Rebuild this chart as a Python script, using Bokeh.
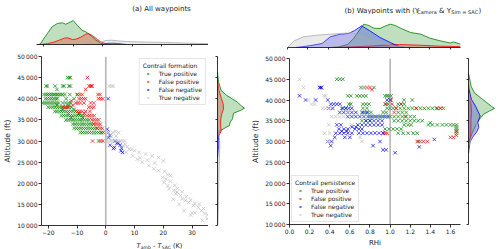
from bokeh.plotting import figure
from bokeh.models import Range1d, Label, Span, FixedTicker, Legend, LegendItem, NumeralTickFormatter
from bokeh.layouts import row, column
from bokeh.embed import file_html
from bokeh.resources import INLINE

FONT = "DejaVu Sans"
GREEN, RED, BLUE, GREY = "#008000", "#ff0000", "#0000ff", "#bdbdbd"
NAMES = ["True positive", "False positive", "False negative", "True negative"]

# ---------------- Panel (a): T_amb - T_SAC vs altitude ----------------
A_TP_LEVELS = [45000, 43000, 42200, 41000, 40000, 39000, 38500, 38000, 37500, 37000,
               36500, 36000, 35500, 35000, 34000, 33000, 32000, 30000]
A_TP_X = [
    [-13.3, -12.7, -12.3],
    [-20.8, -20.3, -17.6, -15.0, -14.5, -12.8, -12.3],
    [-17.0],
    [-21.5, -20.8, -20.2, -19.6, -19.0, -18.4, -17.9, -17.3, -16.8, -16.2, -15.6, -15.0, -14.2, -12.5, -10.0],
    [-21.0, -20.3, -19.5, -18.8, -18.0, -17.3, -16.8, -13.8, -11.0],
    [-22.0, -21.3, -20.6, -19.9, -19.2, -18.5, -17.8, -17.1, -16.4, -15.0, -14.0, -13.0, -12.2],
    [-17.0, -13.0],
    [-20.0, -19.2, -18.4, -17.6, -16.8, -16.0, -15.2, -14.4, -13.6, -12.8, -12.0],
    [-15.0, -11.0],
    [-17.7, -17.0, -16.2, -15.4, -14.6, -13.8, -13.0, -12.2, -11.4, -10.5],
    [-13.0, -9.0],
    [-15.5, -14.7, -13.9, -13.1, -12.3, -11.5, -10.7, -9.9, -9.1, -8.3, -7.5],
    [-12.0, -8.0],
    [-13.8, -13.0, -12.2, -11.4, -10.6, -9.8, -9.0, -8.2, -7.4, -6.6, -5.8],
    [-11.5, -10.7, -9.9, -9.1, -8.3, -7.5, -6.7, -5.9, -5.1, -4.3],
    [-11.0, -10.2, -9.4, -8.6, -7.8, -7.0, -6.2, -5.4, -4.6, -3.8, -3.0],
    [-8.9, -8.1, -7.3, -6.5, -5.7, -4.9, -4.1, -3.3, -2.5, -1.7],
    [-2.5],
]
A_FP_LEVELS = [45000, 43000, 42200, 41000, 40000, 39500, 39000, 38500, 38000, 37000,
               36500, 36000, 35000, 34000, 33000, 32000, 30000]
A_FP_X = [
    [-6.4],
    [-5.8, -5.3, -5.0, -4.8],
    [-7.0],
    [-9.8, -9.0, -8.2, -2.7, -2.0],
    [-9.3, -8.5, -7.7, -7.0, -2.5, -1.8, -1.0],
    [-12.0],
    [-10.4, -9.6, -8.8, -7.6, -5.3, -4.2],
    [-11.5],
    [-14.9, -14.0, -13.2, -5.9, -5.0, -4.2],
    [-9.8, -9.0, -8.2, -7.0, -5.5],
    [-9.5, -7.5],
    [-6.5, -5.7, -4.8, -4.0],
    [-4.8, -4.0, -3.2, -2.5],
    [-4.2, -3.4, -2.6, -1.9],
    [-3.0, -2.0, -1.2],
    [-1.4, -0.8],
    [-4.6, -1.8, -1.0],
]
A_FN_X = [0.8, 0.5, 0.9, 1.5, 1.0, 3.3, 3.8, 4.4, 1.5, 2.7, 5.0, 5.5, 5.3, 5.8, 3.0]
A_FN_ALT = [40000, 32800, 32000, 31300, 30800, 30000, 29500, 29500, 29000, 28200,
            29000, 28300, 27700, 27300, 28500]
A_TN_X = [1.2, 2.0, 2.6, -0.5, 1.0, 2.5, 3.3, 4.5, 0.5, 2.0, 3.5,
          0.2, 1.0, 1.8, 2.6, 3.4, 4.2, 5.0, 5.8, 6.6,
          6.0, 6.8, 7.5, 8.2, 10.0, 11.6, 13.9, 16.1, 18.4, 20.0,
          7.1, 9.4, 11.0, 12.7, 15.0, 16.7, 18.4, 9.0, 12.0, 14.5, 17.0,
          19.8, 21.0, 20.3, 21.5, 22.0, 23.7, 24.3, 26.0, 26.6, 27.7, 28.8, 30.5,
          32.2, 33.3, 34.5, 35.3, 33.6, 27.2, 25.5, 23.5, 29.5, 31.0, 24.8, 22.5,
          20.5, 21.5, 22.5, 24.0, 25.0, 26.5, 28.0, 29.5, 31.0, 32.5, 34.0, 30.0, 35.5]
A_TN_ALT = [43000, 43000, 43000, 32400, 32000, 32000, 32300, 32000, 31000, 31000, 31200,
            30000, 30000, 30000, 30000, 30000, 30000, 30000, 30000, 30000,
            28900, 29200, 28600, 28100, 27700, 27300, 26900, 26500, 26100, 25300,
            27300, 26500, 25700, 25000, 24200, 23400, 23000, 28000, 26000, 25500, 24800,
            21400, 21000, 20200, 19400, 18700, 18300, 17500, 17100, 16300, 15900, 15500, 14700,
            14300, 13500, 12800, 11600, 11200, 13500, 15000, 16200, 12500, 13000, 17900, 21800,
            22800, 22000, 20500, 19500, 18800, 18000, 16800, 16000, 15200, 15000, 14000, 13000, 12500]

# marginal densities, panel (a) (heights)
A_TOP_TP_X = [-21.5, -21.1, -18.7, -17.0, -15.3, -13.6, -12.5, -10.8, -10.0, -8.5, -6.9, -5.7, -4.0, -2.4, -0.7, 0.4]
A_TOP_TP_D = [0, 0.5, 11, 18, 21, 21.7, 20.3, 22.7, 24, 19, 14, 12.7, 9, 4.7, 1.3, 0]
A_TOP_FP_X = [-21.1, -18.7, -16.4, -14.7, -13.0, -11.9, -10.2, -9.1, -7.4, -5.7, -4.9, -3.5, -1.8, -0.7, 1.0, 2.7]
A_TOP_FP_D = [0, 0.8, 2.5, 4.3, 6.3, 6.7, 5.0, 5.3, 7.3, 10.3, 11, 9, 5, 2.7, 0.8, 0]
A_TOP_FN_X = [-1.0, 0.5, 2.0, 3.5, 5.0, 6.5, 8.0]
A_TOP_FN_D = [0, 0.6, 1.2, 1.3, 1.0, 0.5, 0]
A_TOP_TN_X = [-6, -3, -1, 0, 1, 3, 5, 8, 12, 16, 20, 24, 28, 32, 35.7]
A_TOP_TN_D = [0, 0.5, 1.5, 3.0, 4.0, 4.3, 3.7, 3.0, 2.6, 2.3, 2.1, 1.8, 1.4, 1.1, 0.8]

A_RIGHT_TP_ALT = [30300, 31700, 32500, 33120, 33670, 34450, 35250, 36580, 37200, 37770, 38240, 39200, 40770, 41950, 44000, 46300]
A_RIGHT_TP_D = [0, 0.7, 3.3, 7.7, 12, 12.7, 15, 16, 22.7, 27, 24, 20, 9.3, 3.7, 1.0, 0]
A_RIGHT_FP_ALT = [30300, 30900, 31700, 32320, 33120, 34070, 35250, 36440, 37600, 38800, 40000, 41950, 44300]
A_RIGHT_FP_D = [0, 0.7, 2.3, 3.7, 3.3, 3.0, 3.3, 4.3, 6.0, 5.7, 4.0, 1.5, 0]
A_RIGHT_FN_ALT = [26000, 27000, 28000, 29000, 30000, 31000, 33000]
A_RIGHT_FN_D = [0, 0.4, 0.8, 1.2, 1.3, 0.7, 0]
A_RIGHT_TN_ALT = [10000, 13000, 16000, 20000, 24000, 27000, 29000, 30500, 32000, 34000, 38000, 43000, 45000]
A_RIGHT_TN_D = [0.3, 0.7, 1.0, 1.3, 1.6, 2.0, 2.3, 2.0, 1.2, 0.6, 0.3, 0.3, 0]

# ---------------- Panel (b): RHi vs altitude ----------------
B_TP_LEVELS = [45000, 43000, 41000, 40000, 39000, 38000, 37000, 36000, 35000, 34500, 34000,
               33500, 33000, 32500, 32000, 30000]
B_TP_X = [
    [0.47, 0.50, 0.53],
    [0.71, 0.74, 0.84],
    [0.58, 0.61, 0.67, 0.70, 0.73, 0.76, 0.95, 0.97, 0.99, 1.01],
    [1.14, 1.22],
    [0.59, 0.61, 0.73, 0.76, 0.79, 0.95, 0.98, 1.08, 1.11, 1.14],
    [0.52, 0.56, 0.73, 0.77, 0.97, 1.00, 1.03, 1.06, 1.10, 1.14, 1.18, 1.22, 1.26, 1.30, 1.34, 1.38, 1.42, 1.46, 1.50],
    [0.72, 0.75, 0.78, 0.81, 0.93, 0.96, 1.08, 1.12, 1.16],
    [0.80, 0.84, 0.88, 0.92, 0.96, 1.00, 1.04, 1.08, 1.12, 1.16, 1.20, 1.24],
    [0.72, 0.76, 0.80, 1.04, 1.08, 1.12, 1.16, 1.20, 1.24, 1.28, 1.32],
    [1.40],
    [1.14, 1.18, 1.21, 1.38, 1.42, 1.47, 1.52, 1.56, 1.60, 1.63, 1.66],
    [1.66],
    [0.95, 0.99, 1.03, 1.07, 1.11, 1.66],
    [1.66],
    [1.08, 1.13, 1.18, 1.23, 1.27, 1.66],
    [1.28, 1.30],
]
B_FP_LEVELS = [43000, 42500, 40000, 39000, 38000, 37000, 36000, 32500, 32000, 31500, 31000, 30000]
B_FP_X = [
    [0.77, 0.80], [0.82], [1.00, 1.01], [0.96, 1.02, 1.11], [1.06, 1.26, 1.47, 1.50, 1.53],
    [1.04], [1.15], [1.66], [0.93, 0.95, 0.97], [1.66], [1.60, 1.63], [1.27, 1.33, 1.37],
]
B_FN_LEVELS = [43000, 41000, 40000, 39000, 38000, 37000, 36000, 35000, 34000, 33500, 33000,
               32500, 32000, 31000, 30500, 30000, 29000, 28700, 28000, 27300]
B_FN_X = [
    [0.30, 0.31, 0.32], [0.10], [0.16, 0.26, 0.38, 0.97, 1.00], [0.41, 0.44, 0.47, 0.50],
    [0.39, 0.43, 0.53, 0.56, 0.59, 0.62], [0.50, 0.54, 0.58, 0.62, 0.66, 0.73, 0.77],
    [0.58, 0.62, 0.66, 0.70, 0.74, 0.78, 0.82, 0.86, 0.90, 0.94, 0.98],
    [0.76, 0.80, 0.84, 0.88, 0.92], [0.47, 0.51, 0.68, 0.72, 0.76, 0.80, 0.84, 0.88, 0.92],
    [0.62, 0.66], [0.49, 0.54, 0.58, 0.65, 0.69, 0.72], [0.52, 0.57],
    [0.46, 0.50, 0.54, 0.58, 0.62, 0.69, 0.73, 0.77, 0.81, 0.85, 0.89, 0.93],
    [0.45, 0.55, 0.60], [1.44], [0.38, 0.42, 0.90], [0.41, 0.83], [1.29], [0.93, 0.96], [1.05],
]
B_TN_LEVELS = [45000, 43000, 41000, 40000, 39000, 38000, 37000, 36000, 34000, 32000, 31000, 30000]
B_TN_X = [
    [0.10], [0.14, 0.72, 0.74, 0.76], [0.34, 0.36], [0.19], [0.22, 0.25], [0.33, 0.36, 0.39, 0.42],
    [0.58], [0.42, 0.46, 0.50, 0.54], [0.39, 0.62], [0.35, 0.40], [0.70], [0.38, 0.41, 0.72],
]

B_TOP_TP_X = [0.42, 0.50, 0.59, 0.65, 0.69, 0.75, 0.80, 0.85, 0.91, 0.96, 1.01, 1.06, 1.11, 1.21, 1.31, 1.40, 1.50, 1.60, 1.63, 1.70]
B_TOP_TP_D = [0, 0.5, 3, 9, 15, 23.3, 22, 19.3, 19, 21.5, 23.3, 22, 19.3, 15, 13.3, 9.3, 6.7, 4.5, 5.5, 3.5]
B_TOP_FP_X = [0.45, 0.60, 0.80, 0.95, 1.10, 1.30, 1.50, 1.65, 1.70]
B_TOP_FP_D = [0, 0.5, 1.3, 2.3, 3.0, 2.3, 1.3, 1.0, 0.8]
B_TOP_FN_X = [0.08, 0.15, 0.23, 0.34, 0.42, 0.52, 0.60, 0.66, 0.73, 0.82, 0.91, 1.01, 1.09, 1.15]
B_TOP_FN_D = [0, 0.8, 2, 4, 10.7, 13.3, 14, 17, 21.7, 16, 10, 5, 1.3, 0]
B_TOP_TN_X = [0.0, 0.02, 0.065, 0.16, 0.29, 0.42, 0.52, 0.62, 0.70, 0.82, 0.95, 1.05, 1.20, 1.30]
B_TOP_TN_D = [0, 2, 6.7, 10.7, 12.3, 13.3, 14, 14.7, 13, 8, 4, 1.5, 0.3, 0]

B_RIGHT_TP_ALT = [29680, 30630, 32220, 33780, 35370, 36560, 37340, 37980, 38530, 40110, 41700, 43270, 46440]
B_RIGHT_TP_D = [0, 1.5, 4, 7, 11, 15, 21, 26, 22.7, 14.3, 6, 2.7, 0]
B_RIGHT_FP_ALT = [28500, 29500, 31000, 33000, 35000, 37000, 39000, 42000, 44000]
B_RIGHT_FP_D = [0, 0.5, 2, 2.5, 2.5, 3, 2.5, 1, 0]
B_RIGHT_FN_ALT = [27080, 28260, 29850, 31030, 32220, 33400, 34590, 36160, 38530, 40110, 42480]
B_RIGHT_FN_D = [0, 0.5, 1.5, 4, 8, 10.3, 9.3, 11.7, 7, 3, 0.3]
B_RIGHT_TN_ALT = [28500, 29500, 31000, 32000, 33500, 35000, 36500, 38500, 40000, 42000]
B_RIGHT_TN_D = [0, 1, 3, 6, 8, 8.5, 8, 5, 2, 0]

ALT_TICKS = [10000, 15000, 20000, 25000, 30000, 35000, 40000, 45000, 50000]
TAMB_TICKS = [-20, -10, 0, 10, 20, 30]
RHI_TICKS = [0.0, 0.2, 0.4, 0.6, 0.8, 1.0, 1.2, 1.4, 1.6]


def flat(levels, rows):
    xs, ys = [], []
    for lv, r in zip(levels, rows):
        for v in r:
            xs.append(v)
            ys.append(lv)
    return xs, ys


def style_axis(ax, tick_out=3):
    ax.axis_line_color = "#000000"
    ax.axis_line_width = 0.8
    ax.major_tick_line_color = "#000000"
    ax.major_tick_line_width = 0.8
    ax.major_tick_out = tick_out
    ax.major_tick_in = 0
    ax.minor_tick_line_color = None
    ax.major_label_text_font = FONT
    ax.major_label_text_font_size = "6px"
    ax.major_label_text_color = "#222222"
    ax.major_label_standoff = 1
    ax.axis_label_text_font = FONT
    ax.axis_label_text_font_style = "normal"
    ax.axis_label_text_color = "#222222"
    ax.axis_label_standoff = 2


def base_fig(w, h, xr, yr, ml, mr, mt, mb, xloc="below", yloc="left"):
    p = figure(width=w, height=h, x_range=xr, y_range=yr, output_backend="svg",
               toolbar_location=None, min_border_left=ml, min_border_right=mr,
               min_border_top=mt, min_border_bottom=mb,
               x_axis_location=xloc, y_axis_location=yloc)
    p.outline_line_color = None
    p.grid.visible = False
    p.background_fill_color = "white"
    p.border_fill_color = "white"
    return p


def strip(w, h):
    # a text-only strip: its frame covers the whole figure, so labels are never clipped
    return base_fig(w, h, Range1d(0, w), Range1d(0, h), 0, 0, 0, 0, xloc=None, yloc=None)


def lab(p, text, x, y, size="7px", style="normal", align="left"):
    p.add_layout(Label(x=x, y=y, x_units="screen", y_units="screen", text=text,
                       text_font=FONT, text_font_size=size, text_font_style=style,
                       text_align=align, text_baseline="alphabetic", text_color="#222222"))


def blank_ticks(ax, ticks):
    ax.ticker = FixedTicker(ticks=ticks)
    ax.major_label_overrides = {t: "" for t in ticks}


def scatter_all(p, series):
    rends = []
    for (xs, ys), col in series:
        r = p.scatter(xs, ys, marker="x", size=5, line_color=col, line_alpha=0.7, line_width=1)
        rends.append(r)
    return rends


def legend(p, rends, title, loc):
    leg = Legend(items=[LegendItem(label=n, renderers=[r]) for n, r in zip(NAMES, rends)],
                 title=title, location=loc)
    leg.title_text_font = FONT
    leg.title_text_font_size = "6px"
    leg.title_text_font_style = "normal"
    leg.title_text_color = "#222222"
    leg.title_standoff = 1
    leg.label_text_font = FONT
    leg.label_text_font_size = "6px"
    leg.label_text_color = "#222222"
    leg.glyph_width = 10
    leg.glyph_height = 7
    leg.label_height = 7
    leg.label_standoff = 6
    leg.spacing = 1
    leg.padding = 3
    leg.margin = 2
    leg.border_line_color = "#cccccc"
    leg.border_line_width = 0.8
    leg.background_fill_alpha = 0.85
    p.add_layout(leg)


def top_density(p, curves):
    for xs, ds, col in curves:
        p.varea(x=xs, y1=[0] * len(xs), y2=ds, fill_color=col, fill_alpha=0.25)
        p.line(xs, ds, line_color=col, line_width=1, line_alpha=0.8)


def right_density(p, curves):
    for ys, ds, col in curves:
        p.harea(y=ys, x1=[0] * len(ys), x2=ds, fill_color=col, fill_alpha=0.25)
        p.line(ds, ys, line_color=col, line_width=1, line_alpha=0.8)


ALT_LABELS = {t: "%d\u2009000" % (t // 1000) for t in ALT_TICKS}

# ---------------- panel (a) ----------------
xa = Range1d(-22.36, 35.74)

titleA = strip(248, 13)
lab(titleA, "(a) All waypoints", 125, 4.5, align="center")

topA = base_fig(208, 37, xa, Range1d(0, 29), 36, 0, 2, 6, yloc=None)
style_axis(topA.xaxis[0], tick_out=2)
blank_ticks(topA.xaxis[0], TAMB_TICKS)
top_density(topA, [(A_TOP_TP_X, A_TOP_TP_D, GREEN), (A_TOP_FP_X, A_TOP_FP_D, RED),
                   (A_TOP_FN_X, A_TOP_FN_D, BLUE), (A_TOP_TN_X, A_TOP_TN_D, "#aaaaaa")])

mainA = base_fig(208, 187, xa, Range1d(10000, 50000), 36, 0, 6, 12)
style_axis(mainA.xaxis[0])
style_axis(mainA.yaxis[0])
mainA.xaxis.ticker = FixedTicker(ticks=TAMB_TICKS)
mainA.xaxis.major_label_overrides = {-20: "\u221220", -10: "\u221210", 0: "0", 10: "10", 20: "20", 30: "30"}
mainA.yaxis.ticker = FixedTicker(ticks=ALT_TICKS)
mainA.yaxis.major_label_overrides = ALT_LABELS
mainA.yaxis.axis_label = "Altitude (ft)"
mainA.yaxis.axis_label_text_font_size = "7.5px"
mainA.add_layout(Span(location=0, dimension="height", line_color="#b5b5b5", line_width=1.6))
rA = scatter_all(mainA, [(flat(A_TP_LEVELS, A_TP_X), GREEN), (flat(A_FP_LEVELS, A_FP_X), RED),
                         ((A_FN_X, A_FN_ALT), BLUE), ((A_TN_X, A_TN_ALT), GREY)])
legend(mainA, rA, "Contrail formation", "top_right")

rightA = base_fig(40, 187, Range1d(0, 30), Range1d(10000, 50000), 9, 1, 6, 12, xloc=None)
style_axis(rightA.yaxis[0], tick_out=2)
blank_ticks(rightA.yaxis[0], ALT_TICKS)
right_density(rightA, [(A_RIGHT_TP_ALT, A_RIGHT_TP_D, GREEN), (A_RIGHT_FP_ALT, A_RIGHT_FP_D, RED),
                       (A_RIGHT_FN_ALT, A_RIGHT_FN_D, BLUE), (A_RIGHT_TN_ALT, A_RIGHT_TN_D, "#aaaaaa")])

xlabA = strip(248, 12)
lab(xlabA, "T", 100, 4, size="6.5px", style="italic")
lab(xlabA, "amb", 104.3, 2.5, size="4.5px")
lab(xlabA, "-", 116.5, 4, size="6.5px")
lab(xlabA, "T", 121, 4, size="6.5px", style="italic")
lab(xlabA, "SAC", 125.3, 2.5, size="4.5px")
lab(xlabA, "(K)", 136.5, 4, size="6.5px")

# ---------------- panel (b) ----------------
xb = Range1d(0, 1.7)

titleB = strip(252, 14)
lab(titleB, "(b) Waypoints with (Y", 57, 4)
lab(titleB, "Camera", 129.8, 2.6, size="5px")
lab(titleB, "& Y", 151.6, 4)
lab(titleB, "Sim = SAC", 163.8, 2.6, size="5px")
lab(titleB, ")", 191, 4)

topB = base_fig(214, 38, xb, Range1d(0, 29), 39, 2, 4, 5, yloc=None)
style_axis(topB.xaxis[0], tick_out=2)
blank_ticks(topB.xaxis[0], RHI_TICKS)
top_density(topB, [(B_TOP_TP_X, B_TOP_TP_D, GREEN), (B_TOP_FP_X, B_TOP_FP_D, RED),
                   (B_TOP_FN_X, B_TOP_FN_D, BLUE), (B_TOP_TN_X, B_TOP_TN_D, "#aaaaaa")])

mainB = base_fig(214, 197, xb, Range1d(10000, 50000), 39, 2, 6, 22)
style_axis(mainB.xaxis[0])
style_axis(mainB.yaxis[0])
mainB.xaxis.ticker = FixedTicker(ticks=RHI_TICKS)
mainB.xaxis.formatter = NumeralTickFormatter(format="0.0")
mainB.xaxis.axis_label = "RHi"
mainB.xaxis.axis_label_text_font_size = "7px"
mainB.yaxis.ticker = FixedTicker(ticks=ALT_TICKS)
mainB.yaxis.major_label_overrides = ALT_LABELS
mainB.yaxis.axis_label = "Altitude (ft)"
mainB.yaxis.axis_label_text_font_size = "7.5px"
mainB.add_layout(Span(location=1.0, dimension="height", line_color="#8a8a8a", line_width=1))
rB = scatter_all(mainB, [(flat(B_TP_LEVELS, B_TP_X), GREEN), (flat(B_FP_LEVELS, B_FP_X), RED),
                         (flat(B_FN_LEVELS, B_FN_X), BLUE), (flat(B_TN_LEVELS, B_TN_X), GREY)])
legend(mainB, rB, "Contrail persistence", "bottom_left")

rightB = base_fig(38, 197, Range1d(0, 29), Range1d(10000, 50000), 6, 3, 6, 22, xloc=None)
style_axis(rightB.yaxis[0], tick_out=2)
blank_ticks(rightB.yaxis[0], ALT_TICKS)
right_density(rightB, [(B_RIGHT_TP_ALT, B_RIGHT_TP_D, GREEN), (B_RIGHT_FP_ALT, B_RIGHT_FP_D, RED),
                       (B_RIGHT_FN_ALT, B_RIGHT_FN_D, BLUE), (B_RIGHT_TN_ALT, B_RIGHT_TN_D, "#aaaaaa")])

layout = row(column(titleA, topA, row(mainA, rightA), xlabA),
             column(titleB, topB, row(mainB, rightB)))

open("out.html", "w").write(file_html(layout, INLINE))
